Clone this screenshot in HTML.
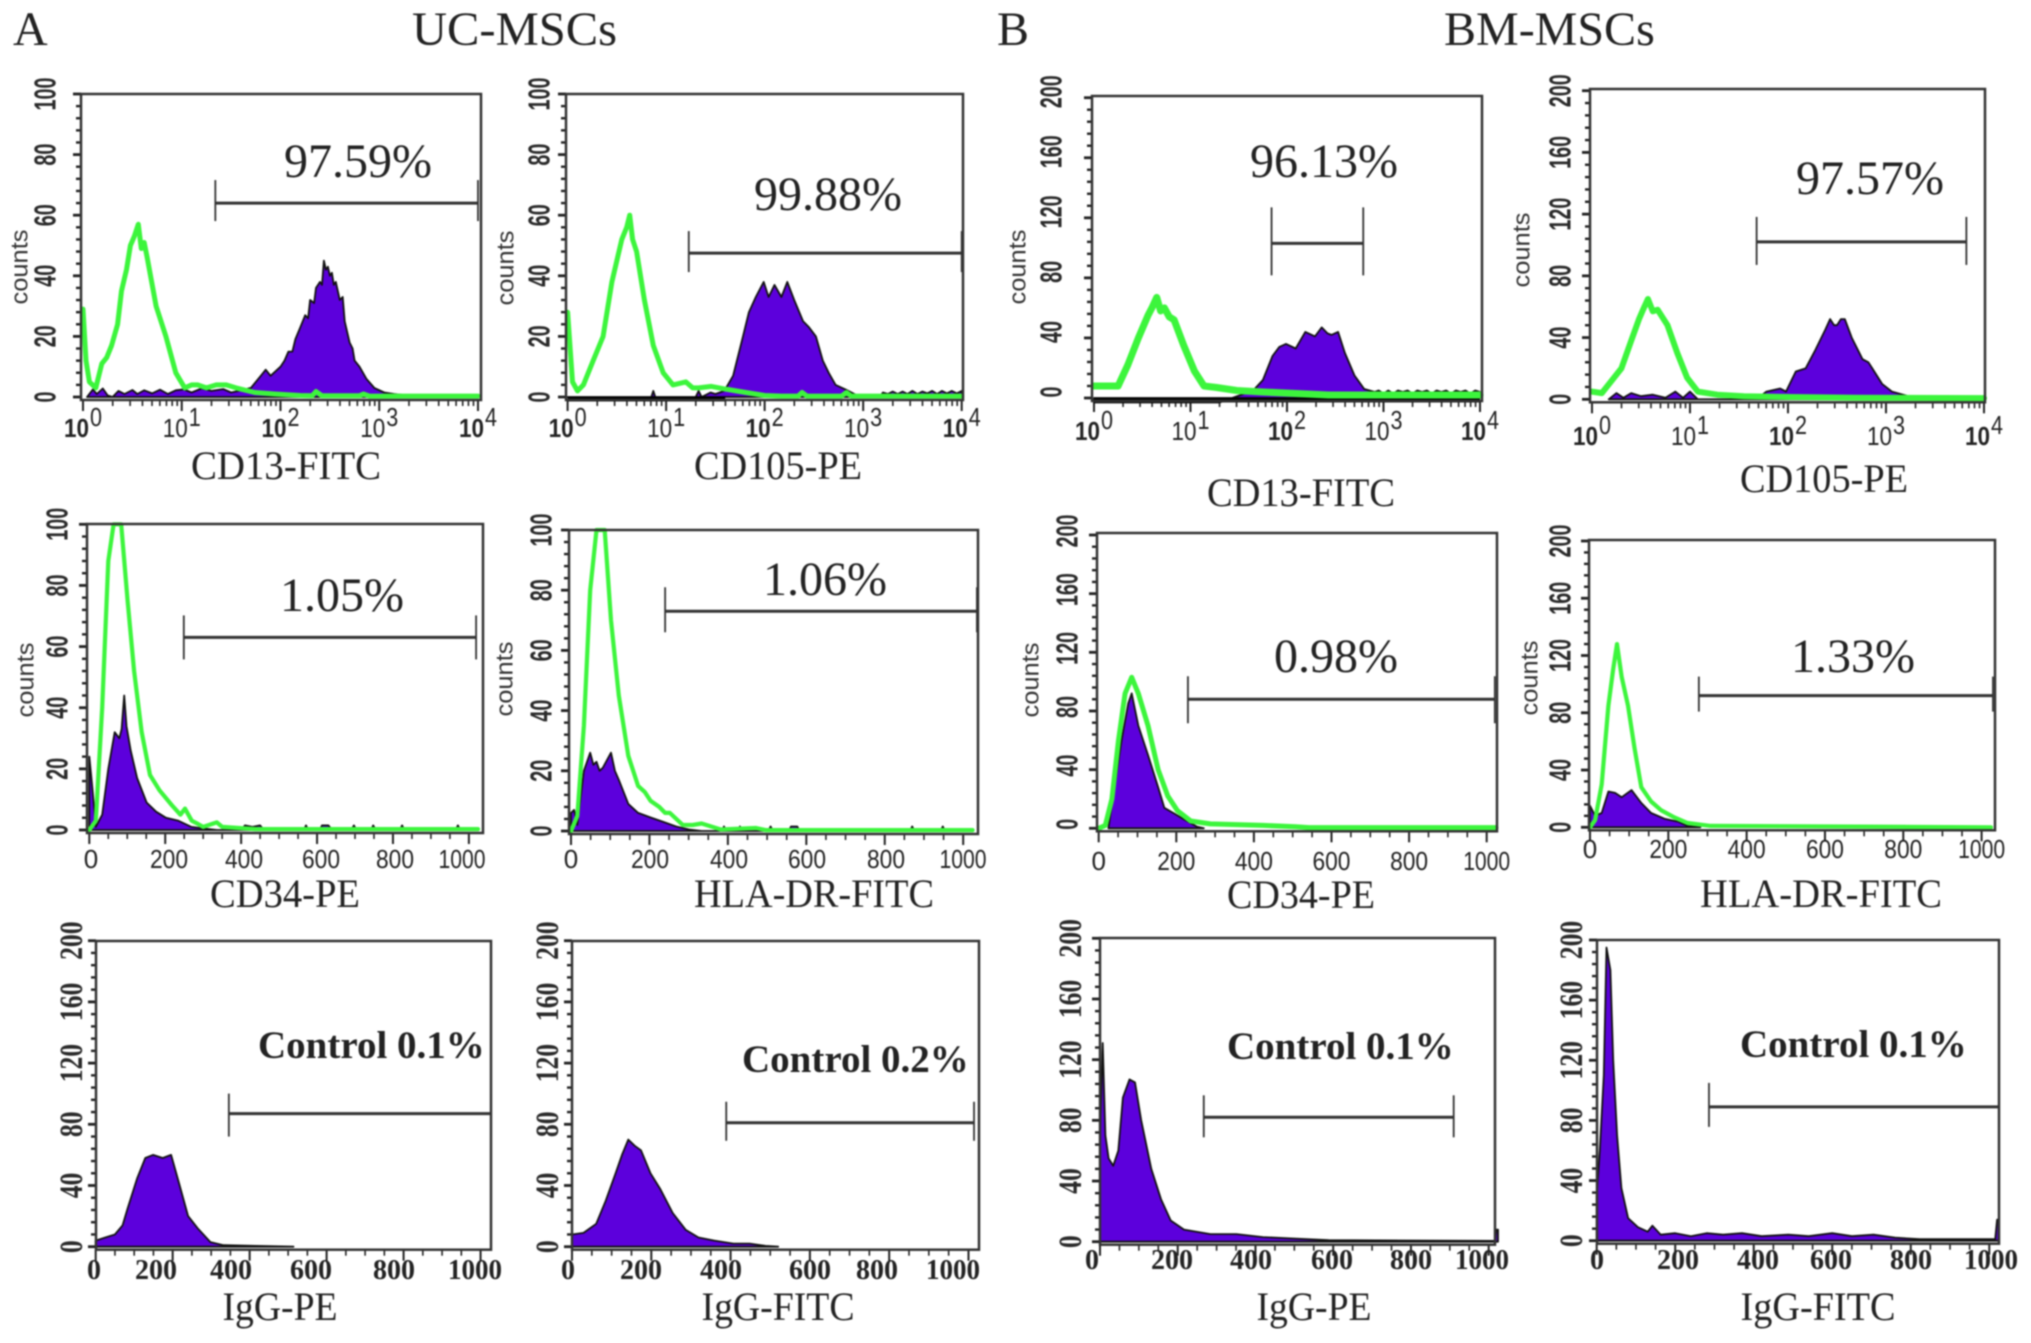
<!DOCTYPE html>
<html lang="en">
<head>
<meta charset="utf-8">
<title>UC-MSCs and BM-MSCs flow cytometry histograms</title>
<style>
html,body{margin:0;padding:0;background:#fff;width:2031px;height:1343px;overflow:hidden}
svg{display:block;filter:blur(0.9px)}
</style>
</head>
<body>
<svg id="figure" xmlns="http://www.w3.org/2000/svg" width="2031" height="1343" viewBox="0 0 2031 1343">
<rect width="2031" height="1343" fill="#fff"/>
<text x="13" y="45" font-family="'Liberation Serif',serif" font-size="48" fill="#222">A</text>
<text x="412" y="45" font-family="'Liberation Serif',serif" font-size="48" fill="#222" textLength="205" lengthAdjust="spacingAndGlyphs">UC-MSCs</text>
<text x="997" y="45" font-family="'Liberation Serif',serif" font-size="48" fill="#222">B</text>
<text x="1444" y="45" font-family="'Liberation Serif',serif" font-size="48" fill="#222">BM-MSCs</text>
</svg>
<script>
// Axis tick values
const logTicks = [0, 1, 2, 3, 4];
const linearTicks = [0, 200, 400, 600, 800, 1000];
const countTicks100 = [0, 20, 40, 60, 80, 100];
const countTicks200 = [0, 40, 80, 120, 160, 200];

// UC-MSCs CD13-FITC
const a1LineX = [0, .03, .065, .13, .19, .24, .29, .35, .39, .44, .48, .52, .56, .59, .62, .65, .74, .84, .94, 1.03, 1.1, 1.16, 1.25, 1.35, 1.45, 1.55, 1.74, 1.94, 2.2, 2.32, 2.36, 2.42, 2.8, 2.84, 2.9, 4];
const a1LineY = [29, 12, 5, 3, 11, 13, 17, 24, 35, 42, 50, 53, 57, 49, 51, 46, 30, 20, 8, 3, 4, 4, 3, 4, 4, 3, 1.5, 1, .5, .4, 1.8, .4, .4, 1, .3, .3];
const a1FillX = [.04, .1, .14, .2, .25, .3, .36, .42, .5, .55, .62, .7, .78, .86, .94, 1.02, 1.1, 1.2, 1.3, 1.42, 1.5, 1.58, 1.7, 1.8, 1.85, 1.9, 2, 2.04, 2.08, 2.12, 2.15, 2.2, 2.25, 2.28, 2.3, 2.34, 2.36, 2.4, 2.42, 2.44, 2.46, 2.48, 2.5, 2.52, 2.54, 2.56, 2.6, 2.63, 2.65, 2.7, 2.73, 2.75, 2.8, 2.87, 2.95, 3.05, 3.15, 3.3, 3.4];
const a1FillY = [0, 2.5, 1, 2.8, .5, 0, 2, 1, 2.3, 1, 2.2, 1.2, 2.4, 1, 2.2, 2.5, 1.5, 2.8, 2, 2.6, 1.5, 2, 3, 7, 9, 7, 10, 12, 15, 15, 19, 23, 27, 26, 32, 31, 36, 38, 37, 45, 42, 43, 40, 41, 37, 38, 32, 33, 25, 18, 16, 12, 10, 6, 3, 1.5, 1, .5, 0];
const a1Gate = [1.34, 4, 64];

// UC-MSCs CD105-PE
const a2LineX = [0, .05, .1, .16, .26, .36, .45, .55, .6, .63, .66, .7, .78, .87, .97, 1.07, 1.2, 1.27, 1.33, 1.46, 1.62, 1.81, 2, 2.17, 2.34, 2.38, 2.43, 2.78, 2.83, 2.88, 4];
const a2LineY = [28, 5, 2, 4, 12, 20, 38, 52, 56, 60, 52, 48, 32, 17, 8, 4, 5, 3, 3, 3.5, 2.5, 1.5, .5, .3, .3, 1.5, .3, .3, 1.5, .3, .3];
const a2FillX = [0, .5, .85, .87, .89, 1.3, 1.33, 1.36, 1.45, 1.5, 1.59, 1.68, 1.78, 1.84, 1.91, 1.99, 2.04, 2.1, 2.17, 2.23, 2.3, 2.39, 2.45, 2.52, 2.59, 2.65, 2.72, 2.82, 2.94, 3.17, 3.2, 3.25, 3.3, 3.35, 3.4, 3.45, 3.5, 3.55, 3.6, 3.65, 3.7, 3.75, 3.8, 3.85, 3.9, 3.95, 4];
const a2FillY = [0, 0, 0, 2, 0, 0, 2, 0, 1.5, 1, 2, 7, 20, 28, 33, 38, 33, 37, 33, 38, 32, 25, 23, 20, 12, 8, 4, 2.5, .5, 0, 1.5, 1, 1.8, 1, 1.8, 1, 2, 1, 1.8, 1.2, 2, 1, 2, 1.2, 2, 1.2, 2];
const a2Gate = [1.23, 4, 47.5];

// BM-MSCs CD13-FITC
const b1LineX = [0, .25, .35, .46, .56, .6, .65, .69, .73, .78, .83, .93, 1.04, 1.14, 1.27, 1.48, 1.75, 2.43, 3.11, 4];
const b1LineY = [8, 8, 22, 40, 55, 60, 67, 58, 60, 54, 52, 35, 18, 8, 7, 5, 4, 2, 2, 2];
const b1FillX = [0, .3, .6, .9, 1.3, 1.65, 1.75, 1.85, 1.92, 1.99, 2.09, 2.19, 2.29, 2.36, 2.42, 2.46, 2.53, 2.6, 2.7, 2.8, 2.91, 2.95, 3, 3.05, 3.1, 3.15, 3.2, 3.25, 3.3, 3.35, 3.4, 3.45, 3.5, 3.55, 3.6, 3.65, 3.7, 3.75, 3.8, 3.85, 3.9, 3.95, 4];
const b1FillY = [-3, -3, -3, -3, -3, 5, 12, 28, 34, 36, 33, 44, 41, 47, 43, 42, 44, 30, 15, 6, 4, 5, 3, 5, 3, 5, 4, 5, 3, 5, 4, 5, 3, 5, 4, 5, 3, 5, 4, 5, 3, 5, 4];
const b1Floor = [0, 4];
const b1Gate = [1.84, 2.79, 103];

// BM-MSCs CD105-PE
const b2LineX = [0, .1, .2, .3, .4, .48, .52, .57, .62, .67, .77, .87, .97, 1.08, 1.28, 1.55, 2.02, 2.69, 4];
const b2LineY = [5, 4, 12, 20, 38, 52, 58, 65, 57, 58, 48, 30, 14, 5, 3, 2, 1.5, 1, .8];
const b2FillX = [.17, .25, .32, .4, .5, .62, .75, .85, .93, 1, 1.08, 1.68, 1.78, 1.92, 1.98, 2.08, 2.18, 2.28, 2.38, 2.43, 2.47, 2.5, 2.54, 2.58, 2.65, 2.76, 2.82, 2.86, 2.96, 3.06, 3.23, 3.36];
const b2FillY = [0, 4, 1, 4, 2, 3, 1, 5, 1, 5, 0, 0, 5, 7, 5, 18, 20, 32, 45, 52, 48, 48, 52, 52, 40, 26, 24, 20, 10, 5, 2, 0];
const b2Gate = [1.68, 3.82, 102];

// UC-MSCs CD34-PE
const a3LineX = [0, 17, 34, 50, 64, 84, 101, 118, 138, 160, 185, 218, 240, 252, 270, 286, 300, 336, 350, 437, 1024];
const a3LineY = [0, 3, 40, 88, 100, 100, 75, 52, 32, 18, 13, 8, 5, 7, 3, 2, 1, 2.5, 1, .3, .3];
const a3FillX = [0, 8, 17, 34, 50, 67, 79, 85, 92, 98, 109, 126, 151, 176, 202, 235, 269, 302, 336, 400, 410, 430, 450, 460, 565, 571, 577, 607, 613, 630, 640, 690, 697, 704, 742, 748, 755, 818, 824, 830, 965, 971, 977];
const a3FillY = [24, 14, 1, 5, 20, 32, 30, 33, 44, 34, 26, 17, 9, 6, 4, 3, 1, .5, 0, 0, 1.5, 1, 1.5, 0, 0, 1.5, 0, 0, 1.5, 1.5, 0, 0, 1.5, 0, 0, 1.5, 0, 0, 1.5, 0, 0, 1.5, 0];
const a3Gate = [249, 1019, 63];

// UC-MSCs HLA-DR-FITC
const a4LineX = [0, 16, 33, 49, 65, 86, 102, 122, 146, 171, 188, 203, 225, 240, 252, 285, 310, 333, 382, 472, 496, 1024];
const a4LineY = [0, 5, 35, 80, 100, 100, 70, 45, 25, 15, 13, 10, 8, 6, 6, 2, 2, 2.5, .5, 1, .3, .3];
const a4FillX = [0, 8, 16, 33, 49, 57, 65, 73, 81, 102, 112, 122, 146, 171, 203, 236, 268, 301, 333, 384, 390, 396, 425, 431, 437, 503, 509, 515, 555, 561, 577, 583, 864, 870, 876, 942, 948, 954];
const a4FillY = [6, 7, 2, 20, 26, 22, 23, 20, 21, 26, 20, 17, 9, 6, 4.5, 3, 1.5, .5, 0, 0, 1.5, 0, 0, 1.5, 0, 0, 1.5, 0, 0, 1.5, 1.5, 0, 0, 1.5, 0, 0, 1.5, 0];
const a4Gate = [240, 1035, 73];

// BM-MSCs CD34-PE
const b3LineX = [0, 17, 34, 51, 68, 85, 102, 127, 153, 178, 203, 237, 288, 424, 508, 542, 1024];
const b3LineY = [0, 2, 20, 60, 92, 103, 92, 70, 40, 22, 12, 5, 3, 2, 1, .5, .5];
const b3FillX = [25, 42, 59, 76, 85, 102, 127, 153, 169, 195, 220, 254, 271];
const b3FillY = [0, 30, 60, 85, 92, 70, 50, 28, 14, 10, 6, 1, 0];
const b3Gate = [230, 1021, 88];

// BM-MSCs HLA-DR-FITC
const b4LineX = [0, 13, 30, 47, 59, 69, 81, 97, 114, 131, 156, 181, 215, 249, 308, 476, 1024];
const b4LineY = [0, 5, 30, 85, 110, 128, 105, 85, 55, 28, 18, 12, 7, 3, 1, .8, 0];
const b4FillX = [0, 13, 30, 47, 64, 81, 106, 131, 156, 190, 224, 249, 282];
const b4FillY = [15, 8, 10, 25, 24, 21, 26, 17, 10, 6, 4, 1, 0];
const b4Gate = [278, 1029, 92];

// UC-MSCs IgG-PE
const a5FillX = [0, 25, 50, 70, 83, 108, 129, 149, 174, 196, 216, 240, 265, 298, 332, 415, 514];
const a5FillY = [4, 6, 8, 14, 25, 45, 58, 60, 58, 60, 42, 20, 12, 3, 1, .5, 0];
const a5Gate = [346, 1027, 87];

// UC-MSCs IgG-FITC
const a6FillX = [0, 29, 61, 85, 110, 126, 142, 158, 174, 198, 222, 254, 287, 319, 359, 407, 448, 488, 520];
const a6FillY = [8, 9, 15, 30, 48, 60, 70, 66, 63, 48, 38, 22, 11, 6, 4, 2, 2, .5, 0];
const a6Gate = [389, 1014, 81];

// BM-MSCs IgG-PE
const b5FillX = [0, 7, 14, 22, 34, 47, 59, 76, 90, 106, 132, 157, 182, 216, 284, 351, 419, 503, 588, 1016, 1020, 1024];
const b5FillY = [70, 131, 70, 55, 50, 60, 95, 107, 105, 80, 48, 28, 14, 8, 5, 5, 3, 2, 1, .5, 8, 8];
const b5Gate = [267, 910, 82];

// BM-MSCs IgG-FITC
const b6FillX = [0, 8, 18, 25, 35, 42, 52, 63, 80, 105, 130, 142, 163, 200, 240, 280, 322, 370, 420, 488, 540, 600, 650, 705, 760, 822, 900, 1015, 1020, 1024];
const b6FillY = [30, 60, 110, 195, 180, 120, 70, 35, 15, 9, 6, 10, 4, 5, 3, 5, 4, 5, 3, 4, 3, 5, 3, 4, 2, 1, 1, 1, 14, 14];
const b6Gate = [286, 1025, 89];

// Panel layout (pixel geometry of each plot box and its labels)
const panels = [
  {id:'a1',log:true,xLab:'CD13-FITC',pct:'97.59%',pctX:284,pctY:177,L:81,R:481,T:94,x0:83,x1:478,y0:397,yT:94,yMax:100,lineX:a1LineX,lineY:a1LineY,lineW:5,fillX:a1FillX,fillY:a1FillY,gate:a1Gate,gh:[23,18],titleX:286,titleY:479,titleW:190,cX:20,cY:267,yLabX:45,xLabY:437},
  {id:'a2',log:true,xLab:'CD105-PE',pct:'99.88%',pctX:754,pctY:210,L:566,R:963,T:94,x0:567.6,x1:961.7,y0:397,yT:94,yMax:100,lineX:a2LineX,lineY:a2LineY,lineW:5,fillX:a2FillX,fillY:a2FillY,floor:[0,1.6],gate:a2Gate,gh:[22,19],titleX:778,titleY:479,titleW:168,cX:506,cY:268,yLabX:539,xLabY:437},
  {id:'b1',log:true,xLab:'CD13-FITC',pct:'96.13%',pctX:1250,pctY:177,L:1092,R:1482,T:96,x0:1094,x1:1480,y0:398,yT:97.7,yMax:200,lineX:b1LineX,lineY:b1LineY,lineW:7,fillX:b1FillX,fillY:b1FillY,floor:b1Floor,gate:b1Gate,gh:[36,32],titleX:1301,titleY:506,titleW:188,cX:1018,cY:267,yLabX:1051,xLabY:440,yDy:-6},
  {id:'b2',log:true,xLab:'CD105-PE',pct:'97.57%',pctX:1796,pctY:194,L:1590,R:1985,T:89,x0:1592,x1:1984,y0:399.3,yT:90.7,yMax:200,lineX:b2LineX,lineY:b2LineY,lineW:6,fillX:b2FillX,fillY:b2FillY,gate:b2Gate,gh:[25,23],titleX:1824,titleY:492,titleW:168,cX:1522,cY:250,yLabX:1560,xLabY:445},
  {id:'a3',log:false,xLab:'CD34-PE',pct:'1.05%',pctX:280,pctY:611,L:87,R:483,T:524,x0:89.3,x1:478,y0:830,yT:524.3,yMax:100,lineX:a3LineX,lineY:a3LineY,lineW:4.2,fillX:a3FillX,fillY:a3FillY,gate:a3Gate,gh:[22,22],titleX:285,titleY:907,titleW:150,cX:26,cY:680,yLabX:57,xLabY:868,tickPx:[91,169,244,321,395,462]},
  {id:'a4',log:false,xLab:'HLA-DR-FITC',pct:'1.06%',pctX:763,pctY:595,L:569,R:978,T:530,x0:571,x1:972.6,y0:831,yT:530,yMax:100,lineX:a4LineX,lineY:a4LineY,lineW:4.2,fillX:a4FillX,fillY:a4FillY,gate:a4Gate,gh:[24,21],titleX:814,titleY:907,titleW:240,cX:505,cY:679,yLabX:541,xLabY:868,tickPx:[571,650,729,807,886,963]},
  {id:'b3',log:false,xLab:'CD34-PE',pct:'0.98%',pctX:1274,pctY:672,L:1097,R:1497,T:533,x0:1098.7,x1:1496,y0:828.3,yT:535,yMax:200,lineX:b3LineX,lineY:b3LineY,lineW:5,fillX:b3FillX,fillY:b3FillY,gate:b3Gate,gh:[23,24],titleX:1301,titleY:908,titleW:148,cX:1031,cY:680,yLabX:1067,xLabY:870,yDy:-4},
  {id:'b4',log:false,xLab:'HLA-DR-FITC',pct:'1.33%',pctX:1791,pctY:672,L:1589,R:1995,T:540,x0:1590,x1:1991,y0:827.3,yT:541,yMax:200,lineX:b4LineX,lineY:b4LineY,lineW:4.2,fillX:b4FillX,fillY:b4FillY,gate:b4Gate,gh:[19,16],titleX:1821,titleY:907,titleW:242,cX:1530,cY:678,yLabX:1560,xLabY:858},
  {id:'a5',log:false,serif:true,xLab:'IgG-PE',pct:'Control 0.1%',pctX:258,pctY:1058,L:96,R:491,T:941,x0:95.7,x1:489.8,y0:1246.7,yT:940.7,yMax:200,fillX:a5FillX,fillY:a5FillY,gate:a5Gate,gh:[20,23],titleX:280,titleY:1320,titleW:115,yLabX:72,xLabY:1279,tickPx:[94,156,231,311,394,475]},
  {id:'a6',log:false,serif:true,xLab:'IgG-FITC',pct:'Control 0.2%',pctX:742,pctY:1072,L:572,R:979,T:941,x0:572,x1:978,y0:1246.7,yT:940.7,yMax:200,fillX:a6FillX,fillY:a6FillY,gate:a6Gate,gh:[21,18],titleX:778,titleY:1320,titleW:153,yLabX:548,xLabY:1279,tickPx:[568,641,721,810,877,953]},
  {id:'b5',log:false,serif:true,xLab:'IgG-PE',pct:'Control 0.1%',pctX:1227,pctY:1059,L:1100,R:1495,T:938,x0:1100,x1:1498,y0:1241.7,yT:938.3,yMax:200,fillX:b5FillX,fillY:b5FillY,gate:b5Gate,gh:[22,20],titleX:1314,titleY:1320,titleW:115,yLabX:1071,xLabY:1269,tickPx:[1092,1172,1251,1332,1411,1482]},
  {id:'b6',log:false,serif:true,xLab:'IgG-FITC',pct:'Control 0.1%',pctX:1740,pctY:1057,L:1597,R:1999,T:940,x0:1596.7,x1:1998.7,y0:1240.7,yT:940,yMax:200,fillX:b6FillX,fillY:b6FillY,gate:b6Gate,gh:[24,20],titleX:1818,titleY:1320,titleW:155,yLabX:1572,xLabY:1269,tickPx:[1597,1678,1758,1831,1911,1991]}
];

const NS = 'http://www.w3.org/2000/svg';
const SANS = "'Liberation Sans',sans-serif";
const SERIF = "'Liberation Serif',serif";
const root = document.getElementById('figure');

function make(parent, tag, attrs, txt) {
  const el = document.createElementNS(NS, tag);
  for (const k in attrs) el.setAttribute(k, attrs[k]);
  if (txt !== undefined) el.textContent = txt;
  parent.appendChild(el);
  return el;
}

function area(xs, ys, sx, sy, baseline) {
  let d = 'M' + sx(xs[0]).toFixed(1) + ' ' + baseline.toFixed(1);
  xs.forEach((x, i) => { d += 'L' + sx(x).toFixed(1) + ' ' + sy(ys[i]).toFixed(1); });
  d += 'L' + sx(xs[xs.length - 1]).toFixed(1) + ' ' + baseline.toFixed(1) + 'Z';
  return d;
}

function line(xs, ys, sx, sy) {
  return xs.map((x, i) => (i ? 'L' : 'M') + sx(x).toFixed(1) + ' ' + sy(ys[i]).toFixed(1)).join('');
}

panels.forEach(p => {
  const xMax = p.log ? 4 : 1024;
  const sx = v => p.x0 + (v / xMax) * (p.x1 - p.x0);
  const sy = v => p.y0 - (v / p.yMax) * (p.y0 - p.yT);
  const family = p.serif ? SERIF : SANS;

  const g = make(root, 'g', {});
  
  

  // Y ticks
  const yTicks = g.appendChild(document.createElementNS(NS, 'g'));
  
  
  const majors = p.yMax === 100 ? countTicks100 : countTicks200;
  const minorStep = majors[1] / 5;
  for (let v = 0; v <= p.yMax; v += minorStep) {
    const isMajor = majors.includes(v);
    make(yTicks, 'line', {x1: p.L - (isMajor ? 8 : 5), x2: p.L, y1: sy(v), y2: sy(v), stroke: '#222', 'stroke-width': isMajor ? 2.8 : 2.4});
  }
  majors.forEach(v => {
    const cy = sy(v) + (p.yDy || 0);
    const s = String(v);
    const attrs = {
      x: p.yLabX, y: cy, 'text-anchor': 'middle', 'dominant-baseline': 'central',
      transform: 'rotate(-90 ' + p.yLabX + ' ' + cy + ')',
      'font-family': family, 'font-weight': 'bold', 'font-size': p.serif ? 33 : 31, fill: '#2a2a2a'
    };
    attrs.textLength = s.length * (p.serif ? 12.8 : 11);
    attrs.lengthAdjust = 'spacingAndGlyphs';
    const t = make(g, 'text', attrs, s);
    
    
  });

  // X ticks
  const xTickG = g.appendChild(document.createElementNS(NS, 'g'));
  
  
  const axisY = p.y0 + 3;
  if (p.log) {
    logTicks.forEach(d => {
      make(xTickG, 'line', {x1: sx(d), x2: sx(d), y1: axisY, y2: axisY + 11, stroke: '#222', 'stroke-width': 2});
      if (d < 4) {
        for (let m = 2; m < 10; m++) {
          const px = sx(d + Math.log10(m));
          make(xTickG, 'line', {x1: px, x2: px, y1: axisY, y2: axisY + 6, stroke: '#222', 'stroke-width': 1.6});
        }
      }
    });
    logTicks.forEach(d => {
      const base = make(g, 'text', {x: sx(d) - 19, y: p.xLabY, 'font-family': SANS, 'font-weight': d % 2 ? 'normal' : 'bold', 'font-size': 26, fill: '#222', textLength: 25, lengthAdjust: 'spacingAndGlyphs'}, '10');
      
      
      const sup = make(g, 'text', {x: sx(d) + 7, y: p.xLabY - 11, 'font-family': SANS, 'font-size': 26, fill: '#222', textLength: 12, lengthAdjust: 'spacingAndGlyphs'}, String(d));
      
      
    });
  } else {
    for (let v = 0; v <= 1000; v += 50) {
      const isMajor = v % 200 === 0;
      make(xTickG, 'line', {x1: sx(v), x2: sx(v), y1: axisY, y2: axisY + (isMajor ? 11 : 6), stroke: '#222', 'stroke-width': isMajor ? 2 : 1.6});
    }
    linearTicks.forEach((v, i) => {
      const s = String(v);
      const attrs = {x: p.tickPx ? p.tickPx[i] : sx(v), y: p.xLabY, 'text-anchor': 'middle', 'font-family': family, 'font-weight': p.serif ? 'bold' : 'normal', 'font-size': p.serif ? 28 : 26, fill: '#222'};
      if (s.length > 1) {
        attrs.textLength = s.length === 3 ? (p.serif ? 42 : 38) : (p.serif ? 54 : 47);
        attrs.lengthAdjust = 'spacingAndGlyphs';
      }
      const t = make(g, 'text', attrs, s);
      
      
    });
  }

  // Filled histogram
  const fill = make(g, 'path', {d: area(p.fillX, p.fillY, sx, sy, sy(0)), fill: '#5c00dc', stroke: '#111', 'stroke-width': 1.8, 'stroke-linejoin': 'round'});
  
  

  // Black event band hugging the axis
  if (p.floor) {
    const band = make(g, 'line', {x1: sx(p.floor[0]), x2: sx(p.floor[1]), y1: sy(0) + 2, y2: sy(0) + 2, stroke: '#000', 'stroke-width': 5});
    
    
  }

  // Isotype (green) outline
  if (p.lineX) {
    const ln = make(g, 'path', {d: line(p.lineX, p.lineY, sx, sy), fill: 'none', stroke: '#3cf53c', 'stroke-width': p.lineW || 3.5, 'stroke-linejoin': 'round', 'stroke-linecap': 'round'});
    
    
  }

  // Plot frame
  const frame = make(g, 'rect', {x: p.L, y: p.T, width: p.R - p.L, height: axisY - p.T, fill: 'none', stroke: '#333', 'stroke-width': 2.5});
  
  

  // Gate marker
  const gy = sy(p.gate[2]);
  const gx1 = sx(p.gate[0]);
  const gx2 = sx(p.gate[1]);
  const gate = make(g, 'g', {stroke: '#333'});
  
  
  make(gate, 'line', {x1: gx1, x2: gx2, y1: gy, y2: gy, 'stroke-width': 3});
  make(gate, 'line', {x1: gx1, x2: gx1, y1: gy - p.gh[0], y2: gy + p.gh[1], 'stroke-width': 1.8});
  make(gate, 'line', {x1: gx2, x2: gx2, y1: gy - p.gh[0], y2: gy + p.gh[1], 'stroke-width': 1.8});

  // Gate percentage
  const pctEl = make(g, 'text', {x: p.pctX, y: p.pctY, 'font-family': SERIF, 'font-weight': p.serif ? 'bold' : 'normal', 'font-size': p.serif ? 39 : 48, fill: '#222'}, p.pct);
  
  

  // Axis title
  const title = make(g, 'text', {x: p.titleX, y: p.titleY, 'text-anchor': 'middle', 'font-family': SERIF, 'font-size': 40, fill: '#222', textLength: p.titleW, lengthAdjust: 'spacingAndGlyphs'}, p.xLab);
  
  

  // Counts label
  if (p.cX) {
    const c = make(g, 'text', {x: p.cX, y: p.cY, 'text-anchor': 'middle', 'dominant-baseline': 'central', transform: 'rotate(-90 ' + p.cX + ' ' + p.cY + ')', 'font-family': SANS, 'font-size': 24, fill: '#333', textLength: 75, lengthAdjust: 'spacingAndGlyphs'}, 'counts');
    
    
  }
});
</script>
</body>
</html>
